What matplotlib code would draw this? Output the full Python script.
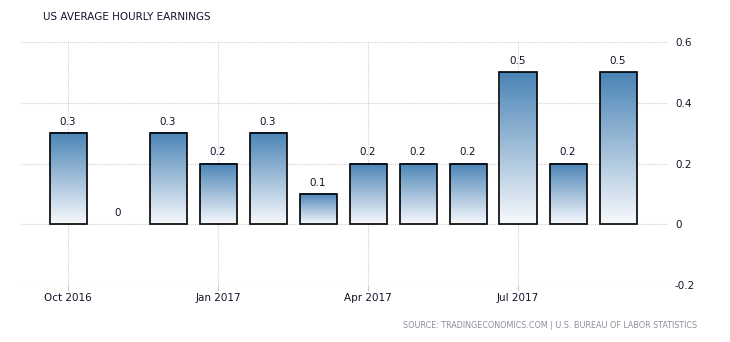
import matplotlib; matplotlib.use("Agg")
import matplotlib.pyplot as plt
import numpy as np
from matplotlib.colors import LinearSegmentedColormap

months = ["Oct 2016","Nov 2016","Dec 2016","Jan 2017","Feb 2017","Mar 2017",
          "Apr 2017","May 2017","Jun 2017","Jul 2017","Aug 2017","Sep 2017"]
values = [0.3, 0.0, 0.3, 0.2, 0.3, 0.1, 0.2, 0.2, 0.2, 0.5, 0.2, 0.5]
xtick_idx = [0, 3, 6, 9]
xtick_labels = ["Oct 2016", "Jan 2017", "Apr 2017", "Jul 2017"]
yticks = [-0.2, 0, 0.2, 0.4, 0.6]
ytick_labels = ["-0.2", "0", "0.2", "0.4", "0.6"]

TXT = "#14142a"
plt.rcParams.update({"font.family": "DejaVu Sans", "font.size": 7.5})
fig = plt.figure(figsize=(7.3, 3.42), dpi=100)
ax = fig.add_axes([21/730, 1-285/342, (668-21)/730, (285-42)/342])

cmap = LinearSegmentedColormap.from_list("g", ["#f7f9fc", "#4a84b6"])
grad = np.linspace(0, 1, 256).reshape(-1, 1)
x = np.arange(len(values))
w = 0.74
for xi, v in zip(x, values):
    if v == 0:
        continue
    ax.imshow(grad, cmap=cmap, origin="lower", aspect="auto",
              extent=(xi-w/2, xi+w/2, 0, v), zorder=2)
    ax.bar(xi, v, width=w, facecolor="none", edgecolor="black", linewidth=1.2, zorder=3)
for xi, v in zip(x, values):
    lbl = "0" if v == 0 else f"{v:.1f}"
    ax.annotate(lbl, (xi, v), xytext=(0, 4.5), textcoords="offset points",
                ha="center", va="bottom", color=TXT, fontsize=7.5)

ax.set_xlim(-0.94, 12.0)
ax.set_ylim(-0.2, 0.6)
ax.set_xticks(xtick_idx)
ax.set_xticklabels(xtick_labels)
ax.set_yticks(yticks)
ax.set_yticklabels(ytick_labels)
ax.yaxis.tick_right()
ax.tick_params(axis="y", length=0, pad=5, colors=TXT)
ax.tick_params(axis="x", length=4, color="#cccccc", pad=2, colors=TXT)
for s in ax.spines.values():
    s.set_visible(False)
ax.grid(True, color="#cfcfcf", linestyle=(0, (1, 1)), linewidth=0.8, zorder=0)
ax.set_axisbelow(True)

fig.text(43/730, 1-17/342, "US AVERAGE HOURLY EARNINGS", fontsize=7.5, color=TXT,
         ha="left", va="center")
fig.text(697/730, 1-326/342, "SOURCE: TRADINGECONOMICS.COM | U.S. BUREAU OF LABOR STATISTICS",
         fontsize=5.8, color="#8a8f99", ha="right", va="center")

fig.savefig("out.png", dpi=100)
